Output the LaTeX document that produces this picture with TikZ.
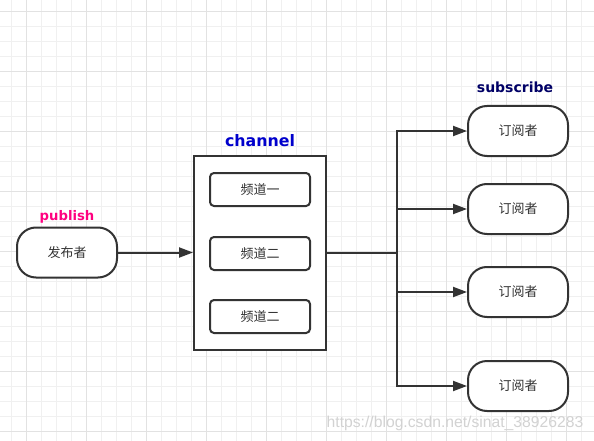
\documentclass[tikz,border=0pt]{standalone}
\usepackage{fontspec}
\setmainfont{Liberation Sans}
\newfontfamily\cjk{Noto Sans CJK SC}
\newfontfamily\lbl{DejaVu Sans}
\usetikzlibrary{arrows.meta}
\definecolor{ln}{HTML}{333333}
\definecolor{pubc}{HTML}{FF0080}
\definecolor{chc}{HTML}{0000CC}
\definecolor{subc}{HTML}{000066}
\definecolor{gminor}{HTML}{F0F0F0}
\definecolor{gmajor}{HTML}{E2E2E2}
\begin{document}
\begin{tikzpicture}[x=1pt,y=-1pt,
  pill/.style={draw=ln,line width=2pt,rounded corners=19pt,minimum width=100pt,minimum height=50pt,inner sep=0pt,fill=white,text=ln,font=\cjk\fontsize{13}{14}\selectfont},
  chbox/.style={draw=ln,line width=2pt,rounded corners=4pt,minimum width=100pt,minimum height=33pt,inner sep=0pt,fill=white,text=ln,font=\cjk\fontsize{13}{14}\selectfont},
  frame/.style={draw=ln,line width=2pt,minimum width=132pt,minimum height=194pt,inner sep=0pt,fill=white},
  arr/.style={draw=ln,line width=2pt,-{Triangle[length=14pt,width=10pt]}},
  conn/.style={draw=ln,line width=2pt},
  ttl/.style={font=\lbl\bfseries\fontsize{#1}{#1}\selectfont,inner sep=0pt}
]
\useasboundingbox (0,0) rectangle (594,441);
\fill[white] (0,0) rectangle (594,441);
\foreach \i in {0,...,39} {\draw[gminor,line width=1pt] ({11.7+15*\i},0) -- ({11.7+15*\i},441);}
\foreach \i in {0,...,29} {\draw[gminor,line width=1pt] (0,{11.7+15*\i}) -- (594,{11.7+15*\i});}
\foreach \i in {-1,...,9} {\draw[gmajor,line width=1pt] ({26.7+60*\i},0) -- ({26.7+60*\i},441);}
\foreach \i in {0,...,7} {\draw[gmajor,line width=1pt] (0,{11.7+60*\i}) -- (594,{11.7+60*\i});}

\node[pill] (pub) at (67,252.5) {发布者};
\node[ttl=13.2,text=pubc] (publbl) at (67,217) {publish};

\node[frame] (chan) at (260,253) {};
\node[ttl=15.8,text=chc] (chanlbl) at (260,141) {channel};
\node[chbox] (c1) at (260,189.5) {频道一};
\node[chbox] (c2) at (260,253.5) {频道二};
\node[chbox] (c3) at (260,316.5) {频道二};

\node[pill] (s1) at (518,131) {订阅者};
\node[pill] (s2) at (518,209) {订阅者};
\node[pill] (s3) at (518,292) {订阅者};
\node[pill] (s4) at (518,386) {订阅者};
\node[ttl=14,text=subc] (sublbl) at (515,87) {subscribe};

\coordinate (jn) at (397,252.5);
\draw[arr] (pub.east) -- (pub.east -| chan.west);
\draw[conn] (chan.east |- jn) -- (jn);
\draw[arr] (jn) |- (s1.west);
\draw[arr] (jn) |- (s2.west);
\draw[arr] (jn) |- (s3.west);
\draw[arr] (jn) |- (s4.west);

\node[text=gray!35,font=\fontsize{15.7}{16}\selectfont,inner sep=0pt] (wm) at (455,423) {https://blog.csdn.net/sinat\_38926283};
\end{tikzpicture}
\end{document}
